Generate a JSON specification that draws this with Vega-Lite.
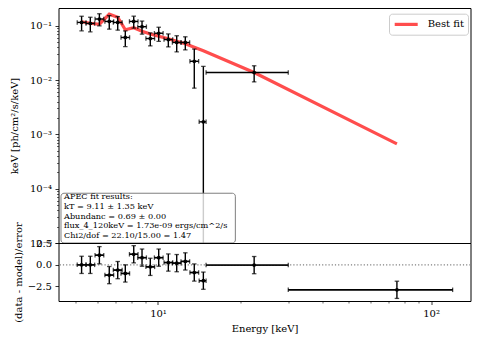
{
  "$schema": "https://vega.github.io/schema/vega-lite/v6.json",
  "autosize": {"type": "pad"},
  "padding": {"left": 8.5, "top": 7, "right": 5, "bottom": 5},
  "background": "white",
  "config": {
    "font": "DejaVu Serif",
    "view": {"stroke": "black", "strokeWidth": 1},
    "axis": {"labelFont": "DejaVu Serif", "titleFont": "DejaVu Serif", "labelFontSize": 10, "titleFontSize": 10, "titleFontWeight": "normal", "labelColor": "black", "titleColor": "black", "tickColor": "black", "domain": false, "grid": false, "labelOverlap": false, "labelFlush": false, "labelBound": false, "tickWidth": 0.8, "labelPadding": 3.5}
  },
  "datasets": {
    "spec": [
      {"E": 5.25, "Elo": 5.06, "Ehi": 5.45, "flux": 0.1150, "flo": 0.0805, "fhi": 0.1495},
      {"E": 5.65, "Elo": 5.45, "Ehi": 5.86, "flux": 0.1102, "flo": 0.0771, "fhi": 0.1433},
      {"E": 6.10, "Elo": 5.88, "Ehi": 6.33, "flux": 0.1329, "flo": 0.0997, "fhi": 0.1661},
      {"E": 6.63, "Elo": 6.39, "Ehi": 6.88, "flux": 0.1200, "flo": 0.0864, "fhi": 0.1536},
      {"E": 7.12, "Elo": 6.86, "Ehi": 7.39, "flux": 0.1150, "flo": 0.0828, "fhi": 0.1472},
      {"E": 7.59, "Elo": 7.32, "Ehi": 7.87, "flux": 0.0608, "flo": 0.0413, "fhi": 0.0803},
      {"E": 8.15, "Elo": 7.86, "Ehi": 8.45, "flux": 0.1200, "flo": 0.0900, "fhi": 0.1500},
      {"E": 8.74, "Elo": 8.43, "Ehi": 9.07, "flux": 0.0959, "flo": 0.0700, "fhi": 0.1218},
      {"E": 9.37, "Elo": 9.03, "Ehi": 9.72, "flux": 0.0581, "flo": 0.0424, "fhi": 0.0738},
      {"E": 10.06, "Elo": 9.70, "Ehi": 10.44, "flux": 0.0727, "flo": 0.0516, "fhi": 0.0938},
      {"E": 10.91, "Elo": 10.52, "Ehi": 11.32, "flux": 0.0557, "flo": 0.0407, "fhi": 0.0707},
      {"E": 11.71, "Elo": 11.29, "Ehi": 12.15, "flux": 0.0492, "flo": 0.0330, "fhi": 0.0654},
      {"E": 12.59, "Elo": 12.14, "Ehi": 13.06, "flux": 0.0492, "flo": 0.0359, "fhi": 0.0625},
      {"E": 13.58, "Elo": 13.09, "Ehi": 14.09, "flux": 0.02216, "flo": 0.00709, "fhi": 0.03723},
      {"E": 14.66, "Elo": 14.15, "Ehi": 15.0, "flux": 0.00170, "flo": 0.0000001, "fhi": 0.01785},
      {"E": 22.5, "Elo": 15.0, "Ehi": 30.0, "flux": 0.01377, "flo": 0.00923, "fhi": 0.01831}
    ],
    "model": [
      {"E": 5.25, "model": 0.1185},
      {"E": 5.65, "model": 0.1112},
      {"E": 6.10, "model": 0.1066},
      {"E": 6.63, "model": 0.1630},
      {"E": 7.12, "model": 0.1435},
      {"E": 7.59, "model": 0.0844},
      {"E": 8.15, "model": 0.0918},
      {"E": 8.74, "model": 0.0792},
      {"E": 9.37, "model": 0.0703},
      {"E": 10.06, "model": 0.0640},
      {"E": 10.91, "model": 0.0576},
      {"E": 11.71, "model": 0.0518},
      {"E": 12.59, "model": 0.0465},
      {"E": 13.58, "model": 0.0402},
      {"E": 14.66, "model": 0.0346},
      {"E": 22.5, "model": 0.01377},
      {"E": 75.0, "model": 0.000668}
    ],
    "resid": [
      {"E": 5.25, "Elo": 5.06, "Ehi": 5.45, "resid": 0.0, "rlo": -1.0, "rhi": 1.0},
      {"E": 5.65, "Elo": 5.45, "Ehi": 5.86, "resid": 0.0, "rlo": -1.0, "rhi": 1.0},
      {"E": 6.10, "Elo": 5.88, "Ehi": 6.33, "resid": 1.12, "rlo": 0.12, "rhi": 2.12},
      {"E": 6.63, "Elo": 6.39, "Ehi": 6.88, "resid": -1.19, "rlo": -2.19, "rhi": -0.19},
      {"E": 7.12, "Elo": 6.86, "Ehi": 7.39, "resid": -0.61, "rlo": -1.61, "rhi": 0.39},
      {"E": 7.59, "Elo": 7.32, "Ehi": 7.87, "resid": -1.0, "rlo": -2.0, "rhi": 0.0},
      {"E": 8.15, "Elo": 7.86, "Ehi": 8.45, "resid": 1.23, "rlo": 0.23, "rhi": 2.23},
      {"E": 8.74, "Elo": 8.43, "Ehi": 9.07, "resid": 0.84, "rlo": -0.16, "rhi": 1.84},
      {"E": 9.37, "Elo": 9.03, "Ehi": 9.72, "resid": -0.23, "rlo": -1.23, "rhi": 0.77},
      {"E": 10.06, "Elo": 9.70, "Ehi": 10.44, "resid": 0.84, "rlo": -0.16, "rhi": 1.84},
      {"E": 10.91, "Elo": 10.52, "Ehi": 11.32, "resid": 0.27, "rlo": -0.73, "rhi": 1.27},
      {"E": 11.71, "Elo": 11.29, "Ehi": 12.15, "resid": 0.2, "rlo": -0.8, "rhi": 1.2},
      {"E": 12.59, "Elo": 12.14, "Ehi": 13.06, "resid": 0.4, "rlo": -0.6, "rhi": 1.4},
      {"E": 13.58, "Elo": 13.09, "Ehi": 14.09, "resid": -0.89, "rlo": -1.89, "rhi": 0.11},
      {"E": 14.66, "Elo": 14.15, "Ehi": 15.0, "resid": -1.84, "rlo": -2.84, "rhi": -0.84},
      {"E": 22.5, "Elo": 15.0, "Ehi": 30.0, "resid": -0.03, "rlo": -1.03, "rhi": 0.97},
      {"E": 75.0, "Elo": 30.0, "Ehi": 120.0, "resid": -2.9, "rlo": -3.9, "rhi": -1.9}
    ]
  },
  "bounds": "flush",
  "spacing": 0,
  "resolve": {"scale": {"x": "independent", "y": "independent", "color": "independent"}},
  "vconcat": [
    {
      "width": 412,
      "height": 235,
      "layer": [
        {
          "data": {"name": "model"},
          "mark": {"type": "line", "strokeWidth": 3.2},
          "encoding": {
            "x": {"field": "E", "type": "quantitative", "scale": {"type": "log", "domain": [4.321, 139.5], "nice": false}, "axis": null},
            "y": {"field": "model", "type": "quantitative", "scale": {"type": "log", "domain": [0.00001, 0.212], "nice": false},
              "axis": {"title": "keV [ph/cm²/s/keV]", "titleX": -44.5, "titleBaseline": "middle", "tickCount": 60,
                "values": [0.00001, 0.00002, 0.00003, 0.00004, 0.00005, 0.00006, 0.00007, 0.00008, 0.00009, 0.0001, 0.0002, 0.0003, 0.0004, 0.0005, 0.0006, 0.0007, 0.0008, 0.0009, 0.001, 0.002, 0.003, 0.004, 0.005, 0.006, 0.007, 0.008, 0.009, 0.01, 0.02, 0.03, 0.04, 0.05, 0.06, 0.07, 0.08, 0.09, 0.1],
                "labelExpr": "datum.value == 0.1 ? '10⁻¹' : datum.value == 0.01 ? '10⁻²' : datum.value == 0.001 ? '10⁻³' : datum.value == 0.0001 ? '10⁻⁴' : datum.value == 0.00001 ? '10⁻⁵' : ''",
                "tickSize": {"condition": {"test": "datum.value == 0.1 || datum.value == 0.01 || datum.value == 0.001 || datum.value == 0.0001 || datum.value == 0.00001", "value": 3.5}, "value": 2},
                "tickWidth": {"condition": {"test": "datum.value == 0.1 || datum.value == 0.01 || datum.value == 0.001 || datum.value == 0.0001 || datum.value == 0.00001", "value": 0.8}, "value": 0.6}}},
            "color": {"datum": "Best fit", "type": "nominal", "scale": {"domain": ["Best fit"], "range": ["#ff4d4d"]},
              "legend": {"title": null, "orient": "none", "legendX": 330.5, "legendY": 5.7, "symbolType": "M-1,0H3.6", "symbolSize": 100, "symbolStrokeWidth": 3.2, "symbolOffset": 0, "labelOffset": 21, "padding": 3.7, "fillColor": "white", "strokeColor": "#cccccc", "cornerRadius": 3, "labelFont": "DejaVu Serif", "labelFontSize": 10, "labelColor": "black"}}
          }
        },
        {
          "data": {"name": "spec"},
          "mark": {"type": "rule", "color": "black", "strokeWidth": 1.4},
          "encoding": {
            "x": {"field": "Elo", "type": "quantitative", "scale": {"type": "log", "domain": [4.321, 139.5], "nice": false}, "axis": null},
            "x2": {"field": "Ehi"},
            "y": {"field": "flux", "type": "quantitative", "scale": {"type": "log", "domain": [0.00001, 0.212], "nice": false}}
          }
        },
        {
          "data": {"name": "spec"},
          "mark": {"type": "rule", "color": "black", "strokeWidth": 1.4, "clip": true},
          "encoding": {
            "x": {"field": "E", "type": "quantitative", "scale": {"type": "log", "domain": [4.321, 139.5], "nice": false}, "axis": null},
            "y": {"field": "flo", "type": "quantitative", "scale": {"type": "log", "domain": [0.00001, 0.212], "nice": false}},
            "y2": {"field": "fhi"}
          }
        },
        {
          "data": {"name": "spec"},
          "mark": {"type": "tick", "orient": "vertical", "size": 4.5, "thickness": 1.3, "color": "black"},
          "encoding": {
            "x": {"field": "Elo", "type": "quantitative", "scale": {"type": "log", "domain": [4.321, 139.5], "nice": false}, "axis": null},
            "y": {"field": "flux", "type": "quantitative", "scale": {"type": "log", "domain": [0.00001, 0.212], "nice": false}}
          }
        },
        {
          "data": {"name": "spec"},
          "mark": {"type": "tick", "orient": "vertical", "size": 4.5, "thickness": 1.3, "color": "black"},
          "encoding": {
            "x": {"field": "Ehi", "type": "quantitative", "scale": {"type": "log", "domain": [4.321, 139.5], "nice": false}, "axis": null},
            "y": {"field": "flux", "type": "quantitative", "scale": {"type": "log", "domain": [0.00001, 0.212], "nice": false}}
          }
        },
        {
          "data": {"name": "spec"},
          "mark": {"type": "tick", "orient": "horizontal", "size": 4.5, "thickness": 1.3, "color": "black", "clip": true},
          "encoding": {
            "x": {"field": "E", "type": "quantitative", "scale": {"type": "log", "domain": [4.321, 139.5], "nice": false}, "axis": null},
            "y": {"field": "flo", "type": "quantitative", "scale": {"type": "log", "domain": [0.00001, 0.212], "nice": false}}
          }
        },
        {
          "data": {"name": "spec"},
          "mark": {"type": "tick", "orient": "horizontal", "size": 4.5, "thickness": 1.3, "color": "black"},
          "encoding": {
            "x": {"field": "E", "type": "quantitative", "scale": {"type": "log", "domain": [4.321, 139.5], "nice": false}, "axis": null},
            "y": {"field": "fhi", "type": "quantitative", "scale": {"type": "log", "domain": [0.00001, 0.212], "nice": false}}
          }
        },
        {
          "data": {"name": "spec"},
          "mark": {"type": "circle", "size": 14, "color": "black", "opacity": 1},
          "encoding": {
            "x": {"field": "E", "type": "quantitative", "scale": {"type": "log", "domain": [4.321, 139.5], "nice": false}, "axis": null},
            "y": {"field": "flux", "type": "quantitative", "scale": {"type": "log", "domain": [0.00001, 0.212], "nice": false}}
          }
        },
        {
          "data": {"values": [{}]},
          "mark": {"type": "rect", "fill": "white", "fillOpacity": 0.8, "stroke": "#7f7f7f", "strokeWidth": 1, "cornerRadius": 3},
          "encoding": {
            "x": {"datum": 4.413, "type": "quantitative", "scale": {"type": "log", "domain": [4.321, 139.5], "nice": false}, "axis": null},
            "x2": {"datum": 19.2},
            "y": {"datum": 0.00001, "type": "quantitative", "scale": {"type": "log", "domain": [0.00001, 0.212], "nice": false}},
            "y2": {"datum": 0.0000824}
          }
        },
        {
          "data": {"values": [{}]},
          "mark": {"type": "text", "align": "left", "baseline": "top", "font": "DejaVu Serif", "fontSize": 8.2, "lineHeight": 9.7, "color": "black",
            "text": ["APEC fit results:", "kT = 9.11 ± 1.35 keV", "Abundanc = 0.69 ± 0.00", "flux_4_120keV = 1.73e-09 ergs/cm^2/s", "Chi2/dof = 22.10/15.00 = 1.47"]},
          "encoding": {
            "x": {"datum": 4.525, "type": "quantitative", "scale": {"type": "log", "domain": [4.321, 139.5], "nice": false}, "axis": null},
            "y": {"datum": 0.0000825, "type": "quantitative", "scale": {"type": "log", "domain": [0.00001, 0.212], "nice": false}}
          }
        }
      ]
    },
    {
      "width": 412,
      "height": 58,
      "layer": [
        {
          "data": {"name": "resid"},
          "mark": {"type": "rule", "color": "black", "strokeWidth": 1.4},
          "encoding": {
            "x": {"field": "Elo", "type": "quantitative", "scale": {"type": "log", "domain": [4.321, 139.5], "nice": false},
              "axis": {"title": "Energy [keV]", "tickCount": 60, "values": [5, 6, 7, 8, 9, 10, 20, 30, 40, 50, 60, 70, 80, 90, 100],
                "labelExpr": "datum.value == 10 ? '10¹' : datum.value == 100 ? '10²' : ''",
                "tickSize": {"condition": {"test": "datum.value == 10 || datum.value == 100", "value": 3.5}, "value": 2},
                "tickWidth": {"condition": {"test": "datum.value == 10 || datum.value == 100", "value": 0.8}, "value": 0.6},
                "titlePadding": 5}},
            "x2": {"field": "Ehi"},
            "y": {"field": "resid", "type": "quantitative", "scale": {"domain": [-4.2, 2.54], "nice": false, "zero": false},
              "axis": {"title": "(data - model)/error", "titleX": -40.5, "titleBaseline": "middle", "values": [-2.5, 0, 2.5], "tickCount": 10, "labelOverlap": false,
                "labelExpr": "datum.value > 1 ? '2.5' : datum.value < -1 ? '−2.5' : '0.0'", "tickSize": 3.5}}
          }
        },
        {
          "data": {"values": [{}]},
          "mark": {"type": "rule", "color": "#808080", "strokeDash": [1.2, 2], "strokeWidth": 1.1},
          "encoding": {
            "y": {"datum": 0, "type": "quantitative", "scale": {"domain": [-4.2, 2.54], "nice": false, "zero": false}}
          }
        },
        {
          "data": {"name": "resid"},
          "mark": {"type": "rule", "color": "black", "strokeWidth": 1.4},
          "encoding": {
            "x": {"field": "Elo", "type": "quantitative", "scale": {"type": "log", "domain": [4.321, 139.5], "nice": false}},
            "x2": {"field": "Ehi"},
            "y": {"field": "resid", "type": "quantitative", "scale": {"domain": [-4.2, 2.54], "nice": false, "zero": false}}
          }
        },
        {
          "data": {"name": "resid"},
          "mark": {"type": "rule", "color": "black", "strokeWidth": 1.4},
          "encoding": {
            "x": {"field": "E", "type": "quantitative", "scale": {"type": "log", "domain": [4.321, 139.5], "nice": false}},
            "y": {"field": "rlo", "type": "quantitative", "scale": {"domain": [-4.2, 2.54], "nice": false, "zero": false}},
            "y2": {"field": "rhi"}
          }
        },
        {
          "data": {"name": "resid"},
          "mark": {"type": "tick", "orient": "vertical", "size": 4.5, "thickness": 1.3, "color": "black"},
          "encoding": {
            "x": {"field": "Elo", "type": "quantitative", "scale": {"type": "log", "domain": [4.321, 139.5], "nice": false}},
            "y": {"field": "resid", "type": "quantitative", "scale": {"domain": [-4.2, 2.54], "nice": false, "zero": false}}
          }
        },
        {
          "data": {"name": "resid"},
          "mark": {"type": "tick", "orient": "vertical", "size": 4.5, "thickness": 1.3, "color": "black"},
          "encoding": {
            "x": {"field": "Ehi", "type": "quantitative", "scale": {"type": "log", "domain": [4.321, 139.5], "nice": false}},
            "y": {"field": "resid", "type": "quantitative", "scale": {"domain": [-4.2, 2.54], "nice": false, "zero": false}}
          }
        },
        {
          "data": {"name": "resid"},
          "mark": {"type": "tick", "orient": "horizontal", "size": 4.5, "thickness": 1.3, "color": "black"},
          "encoding": {
            "x": {"field": "E", "type": "quantitative", "scale": {"type": "log", "domain": [4.321, 139.5], "nice": false}},
            "y": {"field": "rlo", "type": "quantitative", "scale": {"domain": [-4.2, 2.54], "nice": false, "zero": false}}
          }
        },
        {
          "data": {"name": "resid"},
          "mark": {"type": "tick", "orient": "horizontal", "size": 4.5, "thickness": 1.3, "color": "black"},
          "encoding": {
            "x": {"field": "E", "type": "quantitative", "scale": {"type": "log", "domain": [4.321, 139.5], "nice": false}},
            "y": {"field": "rhi", "type": "quantitative", "scale": {"domain": [-4.2, 2.54], "nice": false, "zero": false}}
          }
        },
        {
          "data": {"name": "resid"},
          "mark": {"type": "circle", "size": 14, "color": "black", "opacity": 1},
          "encoding": {
            "x": {"field": "E", "type": "quantitative", "scale": {"type": "log", "domain": [4.321, 139.5], "nice": false}},
            "y": {"field": "resid", "type": "quantitative", "scale": {"domain": [-4.2, 2.54], "nice": false, "zero": false}}
          }
        }
      ]
    }
  ]
}
